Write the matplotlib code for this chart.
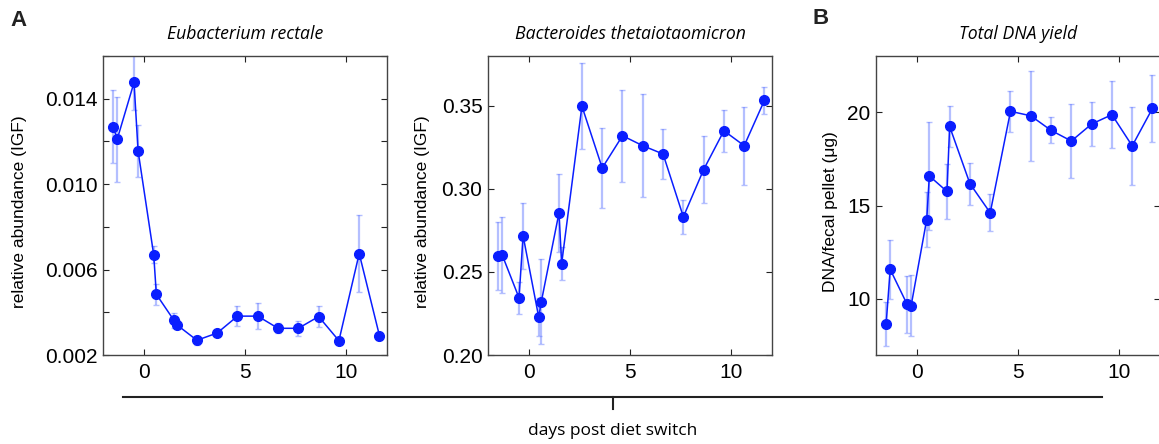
import numpy as np
import matplotlib
matplotlib.use("Agg")
import matplotlib.pyplot as plt
from matplotlib.ticker import MultipleLocator

# days post diet switch (same sampling for all panels)
days = [-1.5, -1.3, -0.47, -0.27, 0.5, 0.63, 1.5, 1.63, 2.63, 3.63,
        4.63, 5.63, 6.63, 7.63, 8.63, 9.63, 10.63, 11.63]

# Eubacterium rectale
erec = [0.01269, 0.0121, 0.01476, 0.01155, 0.00669, 0.00484, 0.00362, 0.00342, 0.00269,
        0.00303, 0.00382, 0.00382, 0.00325, 0.00325, 0.0038, 0.00267, 0.00675, 0.0029]
erec_err = [0.0017, 0.002, 0.0013, 0.0012, 0.0004, 0.0005, 0.00035, 0.0002, 0.0002,
            0.00016, 0.00046, 0.0006, 0.00024, 0.00035, 0.0005, 0.00012, 0.0018, 0.0002]

# Bacteroides thetaiotaomicron
btheta = [0.2596, 0.2602, 0.2344, 0.2718, 0.2228, 0.2322, 0.2856, 0.255, 0.3498, 0.3126,
          0.332, 0.326, 0.321, 0.2832, 0.3116, 0.335, 0.326, 0.3534]
btheta_err = [0.0207, 0.0228, 0.0095, 0.02, 0.0116, 0.0256, 0.0233, 0.01, 0.026, 0.0243,
              0.0276, 0.031, 0.0152, 0.0104, 0.02, 0.0126, 0.0235, 0.0081]

# total DNA yield
dna = [8.67, 11.58, 9.72, 9.63, 14.25, 16.58, 15.75, 19.23, 16.17, 14.61,
       20.04, 19.8, 19.02, 18.45, 19.36, 19.86, 18.19, 20.2]
dna_err = [1.18, 1.57, 1.52, 1.63, 1.45, 2.9, 1.45, 1.08, 1.12, 1.0,
           1.1, 2.4, 0.7, 1.97, 1.2, 1.8, 2.07, 1.8]

W, H = 1159, 444
fig = plt.figure(figsize=(W/100, H/100), dpi=100)

tick_font = "Liberation Sans"
title_font = "Open Sans"

# left edge px, data, title, ylabel, ylim, label spacing, minor step, ylabel x px
panels = [
    (103, erec, erec_err, "Eubacterium rectale", "relative abundance (IGF)",
     (0.002, 0.016), 0.004, 0.002, 20),
    (488, btheta, btheta_err, "Bacteroides thetaiotaomicron", "relative abundance (IGF)",
     (0.2, 0.38), 0.05, None, 423),
    (876, dna, dna_err, "Total DNA yield", "DNA/fecal pellet (\u03bcg)",
     (7, 23), 5, None, 830),
]

line_col = "#0a1eff"
err_col = (0.35, 0.45, 1.0, 0.45)

for left, y, e, title, ylab, ylim, major, minor, ylx in panels:
    ax = fig.add_axes([left/W, 1-355/H, 284/W, 299/H])
    ax.errorbar(days, y, yerr=e, fmt="none", ecolor=err_col, elinewidth=1.6,
                capsize=2.5, capthick=1, zorder=1)
    ax.plot(days, y, "-o", color=line_col, lw=1.1, ms=7, mec=line_col, mfc=line_col, zorder=2)
    ax.set_xlim(-2, 12)
    ax.set_ylim(*ylim)
    ax.set_xticks([0, 5, 10])
    if minor:
        ticks = np.arange(ylim[0], ylim[1] + 1e-9, minor)
        ax.set_yticks(ticks)
        ax.set_yticklabels([f"{t:.3f}" if i % 2 == 0 else "" for i, t in enumerate(ticks)])
    elif ylim[0] == 7:
        ax.set_yticks([10, 15, 20])
    else:
        ax.yaxis.set_major_locator(MultipleLocator(major))
        ax.set_yticklabels([f"{t:.2f}" for t in ax.get_yticks()])
    ax.tick_params(direction="in", length=4, width=0.8, top=True, right=True,
                   labelsize=15, colors="#222222", pad=6)
    ax.tick_params(axis="y", pad=4)
    for lab in ax.get_xticklabels() + ax.get_yticklabels():
        lab.set_fontfamily(tick_font)
        lab.set_color("black")
    for s in ax.spines.values():
        s.set_color("#444444")
        s.set_linewidth(1.0)
    ax.set_title(title, fontsize=12.7, style="italic", family=title_font, pad=12)
    ax.set_ylabel(ylab, fontsize=12.5, family=tick_font, va="center")
    ax.yaxis.set_label_coords((ylx - left) / 284, (355 - 212) / 299)

# panel letters
fig.text(10/W, 1-20/H, "A", fontsize=16, fontweight="bold", family=tick_font,
         va="center", ha="left", color="#222222")
fig.text(812/W, 1-18/H, "B", fontsize=16, fontweight="bold", family=tick_font,
         va="center", ha="left", color="#222222")

# shared x axis bracket
fig.add_artist(plt.Line2D([123/W, 1102/W], [1-397/H, 1-397/H], color="#222222", lw=1.5))
fig.add_artist(plt.Line2D([612.5/W, 612.5/W], [1-397/H, 1-409/H], color="#222222", lw=1.5))
fig.text(612.5/W, 1-431/H, "days post diet switch", fontsize=12.5, family=title_font,
         ha="center", va="center")

fig.savefig("out.png", dpi=100)
